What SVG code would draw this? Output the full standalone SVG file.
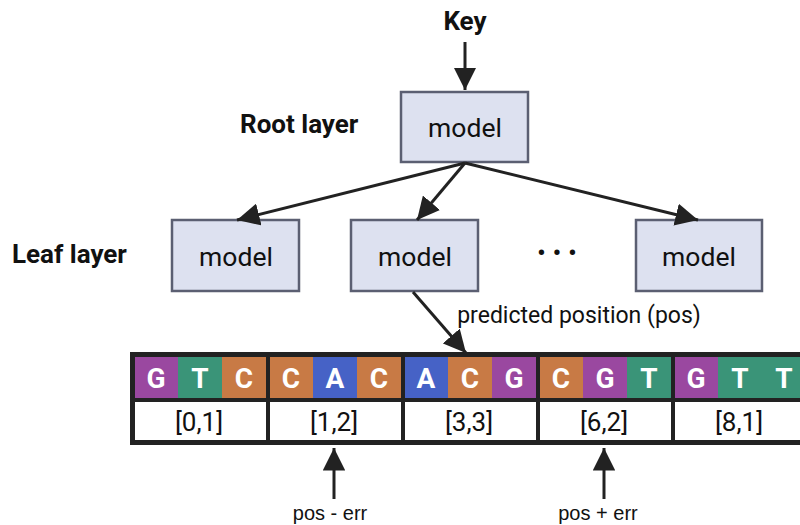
<svg xmlns="http://www.w3.org/2000/svg" width="800" height="525" viewBox="0 0 800 525">
<style>
.box{fill:#DDE1F0;stroke:#5B5F72;stroke-width:2.5}
.mt{font-family:Roboto,"Liberation Sans",sans-serif;font-size:26.5px;fill:#111;text-anchor:middle}
.bl{font-family:Roboto,"Liberation Sans",sans-serif;font-size:26px;font-weight:bold;fill:#111}
.ln{stroke:#222;stroke-width:3;fill:none}
.lt{font-family:Roboto,"Liberation Sans",sans-serif;font-size:28px;font-weight:bold;fill:#fff;text-anchor:middle}
.nt{font-family:Roboto,"Liberation Sans",sans-serif;font-size:26px;fill:#111;text-anchor:middle}
.G{fill:#9A48A0}.T{fill:#3A9478}.C{fill:#C87A45}.A{fill:#4662C6}
.pe{font-family:"Liberation Sans",Arial,sans-serif;font-size:20px;fill:#111;text-anchor:middle}
</style>
<defs>
<marker id="ah" viewBox="0 0 10 10" refX="10" refY="5" markerWidth="7.5" markerHeight="7.5" markerUnits="strokeWidth" orient="auto">
<path d="M0,0 L10,5 L0,10 z" fill="#222"/>
</marker>
</defs>

<text class="bl" x="465" y="30" text-anchor="middle">Key</text>
<text class="bl" x="240" y="133">Root layer</text>
<text class="bl" x="12" y="263">Leaf layer</text>

<g id="root">
<rect class="box" x="401" y="92" width="127" height="70"/>
<text class="mt" x="465" y="137">model</text>
</g>
<g id="leaf1">
<rect class="box" x="172" y="220" width="127" height="71"/>
<text class="mt" x="236" y="266">model</text>
</g>
<g id="leaf2">
<rect class="box" x="351" y="220" width="127" height="71"/>
<text class="mt" x="415" y="266">model</text>
</g>
<text class="mt" x="557" y="262">• • •</text>
<g id="leaf3">
<rect class="box" x="636" y="220" width="126" height="71"/>
<text class="mt" x="699" y="266">model</text>
</g>

<g id="connectors">
<line class="ln" x1="465" y1="42" x2="465" y2="90" marker-end="url(#ah)"/>
<line class="ln" x1="465" y1="163" x2="237" y2="220" marker-end="url(#ah)"/>
<line class="ln" x1="465" y1="163" x2="417" y2="220" marker-end="url(#ah)"/>
<line class="ln" x1="465" y1="163" x2="698" y2="220" marker-end="url(#ah)"/>
<line class="ln" x1="413" y1="292" x2="466" y2="353" marker-end="url(#ah)"/>
<line class="ln" x1="334" y1="499" x2="334" y2="448" marker-end="url(#ah)"/>
<line class="ln" x1="604" y1="499" x2="604" y2="448" marker-end="url(#ah)"/>
</g>

<text class="mt" x="579" y="323" style="font-size:23px">predicted position (pos)</text>

<g id="table">
<rect x="130" y="352" width="692" height="93" fill="#222"/>
<rect x="135" y="357" width="665" height="83" fill="#fff"/>
<rect class="G" x="135" y="357" width="43" height="41"/><rect class="T" x="178" y="357" width="44" height="41"/><rect class="C" x="222" y="357" width="44" height="41"/>
<rect class="C" x="270" y="357" width="43" height="41"/><rect class="A" x="313" y="357" width="44" height="41"/><rect class="C" x="357" y="357" width="44" height="41"/>
<rect class="A" x="405" y="357" width="43" height="41"/><rect class="C" x="448" y="357" width="44" height="41"/><rect class="G" x="492" y="357" width="44" height="41"/>
<rect class="C" x="540" y="357" width="43" height="41"/><rect class="G" x="583" y="357" width="44" height="41"/><rect class="T" x="627" y="357" width="44" height="41"/>
<rect class="G" x="675" y="357" width="43" height="41"/><rect class="T" x="718" y="357" width="44" height="41"/><rect class="T" x="762" y="357" width="44" height="41"/>
<rect x="130" y="398" width="692" height="4" fill="#222"/>
<rect x="266" y="352" width="4" height="93" fill="#222"/>
<rect x="401" y="352" width="4" height="93" fill="#222"/>
<rect x="536" y="352" width="4" height="93" fill="#222"/>
<rect x="671" y="352" width="4" height="93" fill="#222"/>
<g class="lt">
<text x="156" y="388">G</text><text x="200" y="388">T</text><text x="244" y="388">C</text>
<text x="291" y="388">C</text><text x="335" y="388">A</text><text x="379" y="388">C</text>
<text x="426" y="388">A</text><text x="470" y="388">C</text><text x="514" y="388">G</text>
<text x="561" y="388">C</text><text x="605" y="388">G</text><text x="649" y="388">T</text>
<text x="696" y="388">G</text><text x="740" y="388">T</text><text x="784" y="388">T</text>
</g>
<g class="nt">
<text x="199" y="431">[0,1]</text>
<text x="334" y="431">[1,2]</text>
<text x="469" y="431">[3,3]</text>
<text x="604" y="431">[6,2]</text>
<text x="739" y="431">[8,1]</text>
</g>
</g>

<text class="pe" x="330" y="520">pos - err</text>
<text class="pe" x="598" y="520">pos + err</text>
</svg>
